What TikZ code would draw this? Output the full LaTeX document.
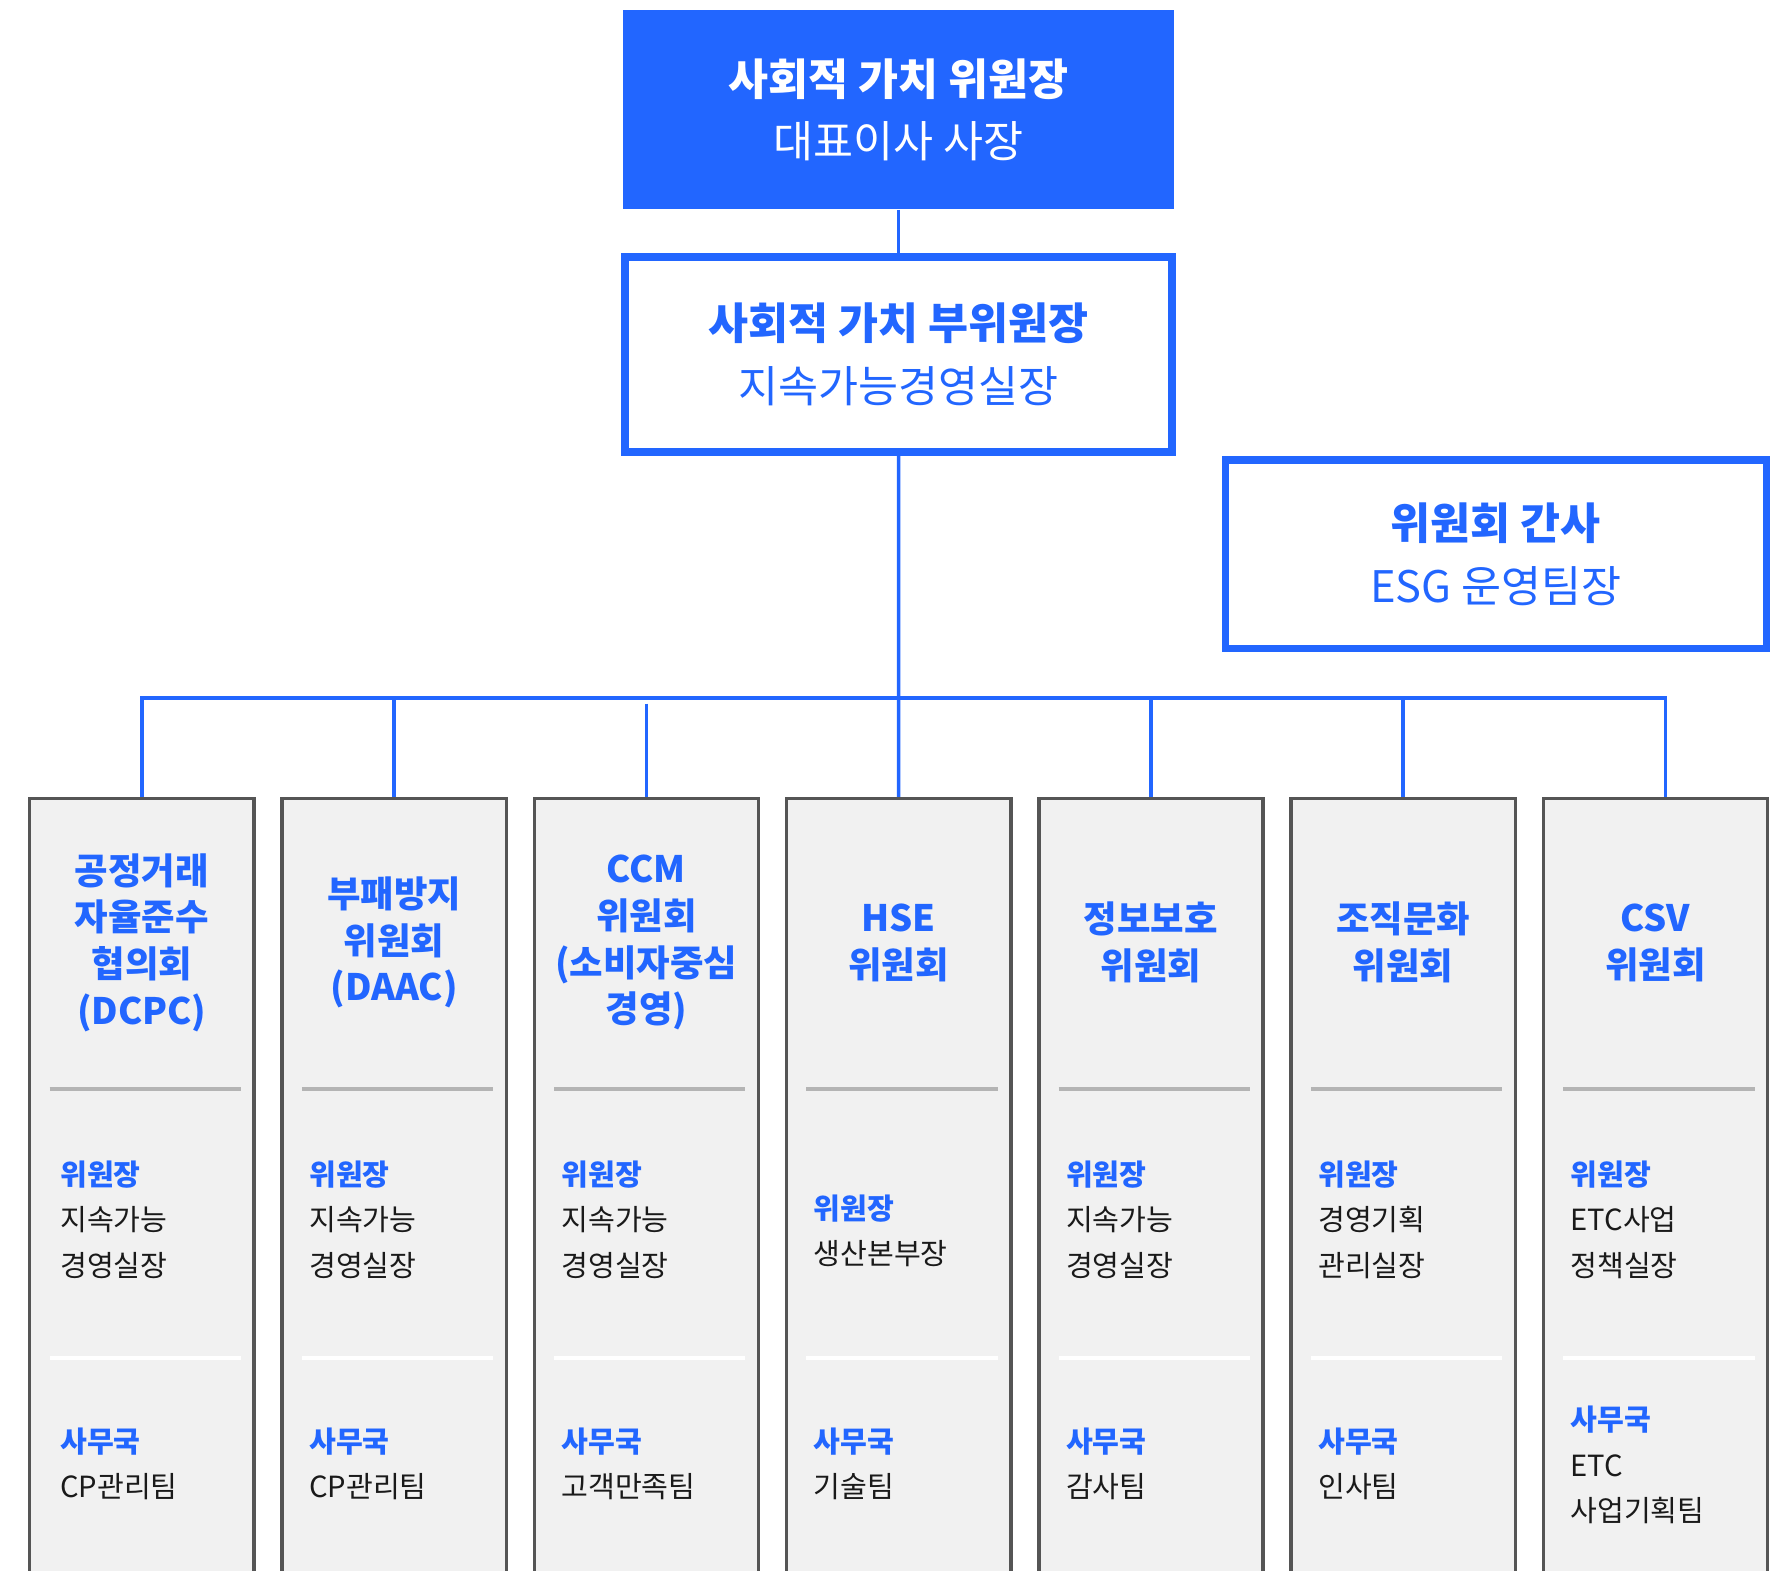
\documentclass[tikz,border=0pt]{standalone}
\usepackage{fontspec}
\setmainfont{Noto Sans CJK KR}
\usetikzlibrary{positioning}
\definecolor{mainblue}{HTML}{2266FF}
\definecolor{colfill}{HTML}{F1F1F1}
\definecolor{colframe}{HTML}{555555}
\definecolor{sepgray}{HTML}{B4B4B4}
\definecolor{textdark}{HTML}{1A1A1A}
\tikzset{
    headbox/.style={rectangle, fill=mainblue, text=white, align=center, minimum width=242pt, minimum height=87.5pt, font=\fontsize{19.1}{27.5}\selectfont},
    subbox/.style={rectangle, draw=mainblue, line width=3.25pt, fill=white, text=mainblue, align=center, font=\fontsize{19.1}{27.5}\selectfont},
    combox/.style={rectangle, draw=colframe, line width=1.5pt, fill=colfill, minimum width=98.5pt, minimum height=350pt},
    comtitle/.style={text=mainblue, align=center, font=\bfseries\fontsize{16}{20.5}\selectfont},
    roleentry/.style={anchor=west, align=left, inner sep=0pt, text=textdark, font=\fontsize{12.8}{20}\selectfont},
    link/.style={draw=mainblue, line width=1.5pt},
    grayrule/.style={draw=sepgray, line width=1.75pt},
    whiterule/.style={draw=white, line width=1.5pt}
}
\newcommand{\rolehead}[1]{{\color{mainblue}\bfseries #1}}

\begin{document}
\begin{tikzpicture}[x=0.5pt, y=-0.5pt, node distance=10.8pt]
    \clip (0,0) rectangle (1568,1380);

    % Committee heads
    \node (Chair) [headbox] at (789.4, 96.5) {\textbf{사회적 가치 위원장}\\대표이사 사장};
    \node (ViceChair) [subbox, minimum width=240.25pt, minimum height=85.75pt, below=19pt of Chair] {\textbf{사회적 가치 부위원장}\\지속가능경영실장};
    \node (Secretary) [subbox, minimum width=237.75pt, minimum height=82.75pt] at (1314, 487) {\textbf{위원회 간사}\\ESG 운영팀장};

    % Committee columns
    \node (Com1) [combox, anchor=north west] at (24.6, 700) {};
    \node (Com2) [combox, right=of Com1] {};
    \node (Com3) [combox, right=of Com2] {};
    \node (Com4) [combox, right=of Com3] {};
    \node (Com5) [combox, right=of Com4] {};
    \node (Com6) [combox, right=of Com5] {};
    \node (Com7) [combox, right=of Com6] {};

    % Separators inside the columns
    \foreach \c in {1,...,7} {
        \draw[grayrule] (Com\c.west |- 0,957) ++(19,0) -- ++(168,0);
        \draw[whiterule] (Com\c.west |- 0,1193) ++(19,0) -- ++(168,0);
    }

    % Committee names
    \node (Title1) [comtitle] at (Com1.north |- 0,828) {공정거래\\자율준수\\협의회\\(DCPC)};
    \node (Title2) [comtitle] at (Com2.north |- 0,828) {부패방지\\위원회\\(DAAC)};
    \node (Title3) [comtitle] at (Com3.north |- 0,828) {CCM\\위원회\\(소비자중심\\경영)};
    \node (Title4) [comtitle] at (Com4.north |- 0,828) {HSE\\위원회};
    \node (Title5) [comtitle] at (Com5.north |- 0,828) {정보보호\\위원회};
    \node (Title6) [comtitle] at (Com6.north |- 0,828) {조직문화\\위원회};
    \node (Title7) [comtitle] at (Com7.north |- 0,828) {CSV\\위원회};

    % Chairs
    \node (Head1) [roleentry, xshift=14pt] at (Com1.west |- 0,1071.5) {\rolehead{위원장}\\지속가능\\경영실장};
    \node (Head2) [roleentry, xshift=12.5pt] at (Com2.west |- 0,1071.5) {\rolehead{위원장}\\지속가능\\경영실장};
    \node (Head3) [roleentry, xshift=12.5pt] at (Com3.west |- 0,1071.5) {\rolehead{위원장}\\지속가능\\경영실장};
    \node (Head4) [roleentry, xshift=12.5pt] at (Com4.west |- 0,1081) {\rolehead{위원장}\\생산본부장};
    \node (Head5) [roleentry, xshift=12.5pt] at (Com5.west |- 0,1071.5) {\rolehead{위원장}\\지속가능\\경영실장};
    \node (Head6) [roleentry, xshift=12.5pt] at (Com6.west |- 0,1071.5) {\rolehead{위원장}\\경영기획\\관리실장};
    \node (Head7) [roleentry, xshift=12.5pt] at (Com7.west |- 0,1071.5) {\rolehead{위원장}\\ETC사업\\정책실장};

    % Secretariats
    \node (Office1) [roleentry, xshift=14pt] at (Com1.west |- 0,1286) {\rolehead{사무국}\\CP관리팀};
    \node (Office2) [roleentry, xshift=12.5pt] at (Com2.west |- 0,1286) {\rolehead{사무국}\\CP관리팀};
    \node (Office3) [roleentry, xshift=12.5pt] at (Com3.west |- 0,1286) {\rolehead{사무국}\\고객만족팀};
    \node (Office4) [roleentry, xshift=12.5pt] at (Com4.west |- 0,1286) {\rolehead{사무국}\\기술팀};
    \node (Office5) [roleentry, xshift=12.5pt] at (Com5.west |- 0,1286) {\rolehead{사무국}\\감사팀};
    \node (Office6) [roleentry, xshift=12.5pt] at (Com6.west |- 0,1286) {\rolehead{사무국}\\인사팀};
    \node (Office7) [roleentry, xshift=12.5pt] at (Com7.west |- 0,1287) {\rolehead{사무국}\\ETC\\사업기획팀};

    % Reporting lines
    \coordinate (BusR) at (1463, 613);
    \draw[link] (Chair) -- (ViceChair);
    \draw[link] (ViceChair.south) -- (Com4.north);
    \draw[link] (Com1.north) |- (BusR) -- (BusR |- Com7.north);
    \draw[link] (Com2.north |- BusR) -- (Com2.north);
    \draw[link] (Com3.north |- 0,618) -- (Com3.north);
    \draw[link] (Com5.north |- BusR) -- (Com5.north);
    \draw[link] (Com6.north |- BusR) -- (Com6.north);
\end{tikzpicture}
\end{document}
